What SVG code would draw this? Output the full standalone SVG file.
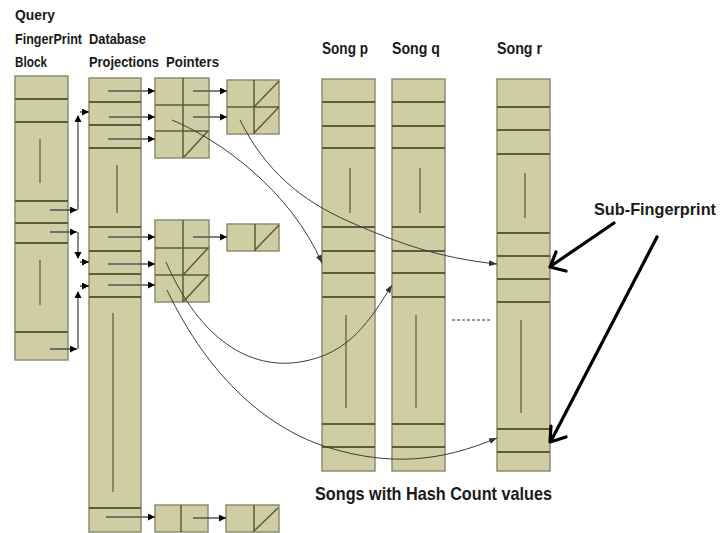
<svg xmlns="http://www.w3.org/2000/svg" width="721" height="533" viewBox="0 0 721 533">
<style>
.blk{fill:#CFCDA3;stroke:#8E8D6E;stroke-width:1.5}
.row{stroke:#5C5B3A;stroke-width:2}
.vl{stroke:#77764C;stroke-width:1.6}
.dv{stroke:#5C5B3A;stroke-width:1.5;fill:none}
.ptr{stroke:#555;stroke-width:1.6;marker-end:url(#ah)}
.conn{fill:none;stroke:#8A8A8A;stroke-width:2}
.crv{fill:none;stroke:#3c3c3c;stroke-width:1;marker-end:url(#ca)}
.lbl{font-family:"Liberation Sans Narrow","Liberation Sans",Arial,sans-serif;font-weight:bold;fill:#1a1a1a}
.big{stroke:#000;stroke-width:3.2;fill:none;stroke-linecap:round;stroke-linejoin:round}
.tri{fill:#000}
</style>
<defs>
<marker id="ah" viewBox="0 0 7 7" refX="7" refY="3.5" markerWidth="7" markerHeight="7" markerUnits="userSpaceOnUse" orient="auto"><path d="M0,0 L7,3.5 L0,7 z" fill="#000"/></marker>
<marker id="ca" viewBox="0 0 8 6" refX="8" refY="3" markerWidth="8" markerHeight="6" markerUnits="userSpaceOnUse" orient="auto"><path d="M0,0 L8,3 L0,6 z" fill="#333"/></marker>
</defs>
<rect width="721" height="533" fill="#fff"/>

<g id="labels" class="lbl">
<text x="15" y="20" font-size="14.5" textLength="40" lengthAdjust="spacingAndGlyphs">Query</text>
<text x="15" y="44" font-size="14.5" textLength="67" lengthAdjust="spacingAndGlyphs">FingerPrint</text>
<text x="15" y="67" font-size="14.5" textLength="32" lengthAdjust="spacingAndGlyphs">Block</text>
<text x="89" y="44" font-size="14.5" textLength="57" lengthAdjust="spacingAndGlyphs">Database</text>
<text x="89" y="67" font-size="14.5" textLength="70" lengthAdjust="spacingAndGlyphs">Projections</text>
<text x="166" y="67" font-size="14.5" textLength="53" lengthAdjust="spacingAndGlyphs">Pointers</text>
<text x="322" y="54" font-size="16.5" textLength="46" lengthAdjust="spacingAndGlyphs">Song p</text>
<text x="392" y="54" font-size="16.5" textLength="48" lengthAdjust="spacingAndGlyphs">Song q</text>
<text x="497" y="54" font-size="16.5" textLength="45" lengthAdjust="spacingAndGlyphs">Song r</text>
<text x="594" y="215" font-size="16.5" textLength="122" lengthAdjust="spacingAndGlyphs">Sub-Fingerprint</text>
<text x="315" y="500" font-size="18.5" textLength="237" lengthAdjust="spacingAndGlyphs">Songs with Hash Count values</text>
</g>

<g id="query-block">
<rect class="blk" x="15" y="76" width="53" height="284"/>
<path class="row" d="M15,99H68M15,122H68M15,201H68M15,223H68M15,243H68M15,332H68"/>
<path class="vl" d="M40,139V183M40,260V305"/>
</g>

<g id="db-projections">
<rect class="blk" x="89" y="78" width="52" height="454"/>
<path class="row" d="M89,102H141M89,125H141M89,148H141M89,227H141M89,251H141M89,274H141M89,297H141M89,508H141"/>
<path class="vl" d="M117,165V213M113,313V492"/>
</g>

<g id="ptr-block-1">
<rect class="blk" x="155" y="78" width="54" height="80"/>
<path class="dv" d="M183,78V158M155,105H209M155,131H209M184,157L208,131"/>
</g>
<g id="ptr-block-2">
<rect class="blk" x="227" y="80" width="52" height="54"/>
<path class="dv" d="M254,80V134M227,107H279M254,107L279,81M254,133L279,107"/>
</g>
<g id="ptr-block-3">
<rect class="blk" x="155" y="220" width="54" height="82"/>
<path class="dv" d="M183,220V302M155,248H209M155,275H209M184,274L208,248M184,301L208,275"/>
</g>
<g id="ptr-block-4">
<rect class="blk" x="227" y="224" width="52" height="27"/>
<path class="dv" d="M255,224V251M255,250L279,225"/>
</g>
<g id="ptr-block-5">
<rect class="blk" x="155" y="505" width="53" height="27"/>
<path class="dv" d="M181,505V532"/>
</g>
<g id="ptr-block-6">
<rect class="blk" x="226" y="505" width="53" height="27"/>
<path class="dv" d="M254,505V532M254,531L278,508"/>
</g>

<g id="song-p">
<rect class="blk" x="322" y="79" width="53" height="392"/>
<path class="row" d="M322,102H375M322,126H375M322,148H375M322,227H375M322,251H375M322,273H375M322,297H375M322,424H375M322,447H375"/>
<path class="vl" d="M350,168V213M346,315V408"/>
</g>
<g id="song-q">
<rect class="blk" x="392" y="79" width="53" height="392"/>
<path class="row" d="M392,102H445M392,126H445M392,148H445M392,227H445M392,251H445M392,273H445M392,297H445M392,424H445M392,447H445"/>
<path class="vl" d="M420,168V213M416,315V408"/>
</g>
<g id="song-r">
<rect class="blk" x="497" y="79" width="53" height="392"/>
<path class="row" d="M497,107H550M497,130H550M497,154H550M497,233H550M497,256H550M497,279H550M497,302H550M497,429H550M497,452H550"/>
<path class="vl" d="M525,173V218M521,320V413"/>
</g>

<g id="connectors">
<line class="ptr" x1="50" y1="210" x2="77" y2="210"/>
<line class="ptr" x1="50" y1="232" x2="77" y2="232"/>
<line class="ptr" x1="50" y1="349" x2="77" y2="349"/>
<line class="conn" x1="78" y1="210" x2="78" y2="116"/>
<path class="tri" d="M74.5,122 L78,115 L81.5,122 z"/>
<line class="ptr" x1="80" y1="112" x2="89" y2="112"/>
<line class="conn" x1="78" y1="232" x2="78" y2="258"/>
<path class="tri" d="M74.5,252 L78,259 L81.5,252 z"/>
<line class="ptr" x1="80" y1="262" x2="89" y2="262"/>
<line class="conn" x1="78" y1="349" x2="78" y2="292"/>
<path class="tri" d="M74.5,298 L78,291 L81.5,298 z"/>
<line class="ptr" x1="80" y1="286" x2="89" y2="286"/>
<line class="ptr" x1="108" y1="91" x2="155" y2="91"/>
<line class="ptr" x1="109" y1="117" x2="155" y2="117"/>
<line class="ptr" x1="108" y1="139" x2="155" y2="139"/>
<line class="ptr" x1="108" y1="237" x2="155" y2="237"/>
<line class="ptr" x1="108" y1="264" x2="155" y2="264"/>
<line class="ptr" x1="108" y1="285" x2="155" y2="285"/>
<line class="ptr" x1="106" y1="517" x2="155" y2="517"/>
<line class="ptr" x1="193" y1="91" x2="227" y2="91"/>
<line class="ptr" x1="193" y1="117" x2="227" y2="117"/>
<line class="ptr" x1="193" y1="237" x2="227" y2="237"/>
<line class="ptr" x1="193" y1="518" x2="226" y2="518"/>
<path class="crv" d="M172,120 C220,140 290,190 322,263"/>
<path class="crv" d="M240,120 C265,170 300,200 350,222 S440,258 497,264"/>
<path class="crv" d="M166,262 C200,340 250,370 300,362 S370,320 392,285"/>
<path class="crv" d="M167,290 C210,380 270,430 330,448 S440,462 497,438"/>
<line x1="452" y1="320" x2="492" y2="320" stroke="#333" stroke-width="1.2" stroke-dasharray="3,2"/>
<path class="big" d="M614,223 L551,266 M556,252 L550,267 L566,271"/>
<path class="big" d="M657,237 L551,441 M551,426 L550,442 L566,437"/>
</g>
</svg>
